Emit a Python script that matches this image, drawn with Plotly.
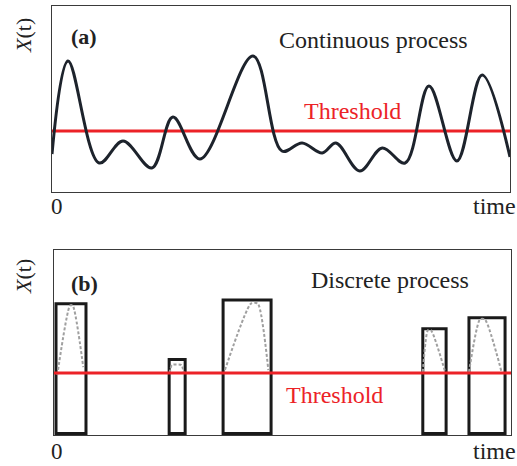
import plotly.graph_objects as go

# ---- Data (arbitrary units; time 0..100, value 0..186) ----
# Panel (a): continuous process, key points of the smooth curve
cont_t = [0, 3.5, 10.3, 15.5, 21.8, 26.4, 32.3, 43.9, 50.2, 54.6, 59.0, 62.0,
          67.2, 72.1, 77.1, 82.3, 88.4, 93.9, 100]
cont_x = [38, 131, 29, 51, 24, 75, 33, 136, 41, 49, 39, 49,
          21, 44, 29, 106, 31, 117, 35]
threshold = 61

# Panel (b): discrete process rectangles (start, end, height)
rect_start = [0.44, 25.2, 37.0, 80.7, 90.8]
rect_end = [7.0, 28.7, 47.5, 85.8, 98.7]
rect_height = [130.7, 74.7, 134.7, 105.7, 116.7]

# dashed humps inside the rectangles (start, peak-left, peak-right, end)
hump_t = [[0.72, 3.5, 4.1, 6.4], [25.3, 25.8, 27.9, 28.4], [37.4, 43.1, 44.6, 46.9],
          [80.7, 81.8, 82.5, 85.6], [90.8, 93.2, 94.3, 98.0]]
hump_x = [[59, 129, 129, 67], [61, 69, 69, 61], [64, 131, 131, 64],
          [62, 104, 104, 62], [62, 115, 115, 61]]

x_tick_labels = ["0", "time"]
y_label = "<i>X</i>(t)"
panel_labels = ["<b>(a)</b>", "<b>(b)</b>"]
panel_titles = ["Continuous process", "Discrete process"]
threshold_label = "Threshold"

W, H = 517, 466
SERIF = "Liberation Serif, Times New Roman, serif"
RED = "#ec2227"
DARK = "#1d232c"

fig = go.Figure()

# Panel (a)
fig.add_trace(go.Scatter(x=[0, 100], y=[threshold, threshold], mode="lines",
                         line=dict(color=RED, width=3), xaxis="x", yaxis="y",
                         showlegend=False, hoverinfo="skip"))
fig.add_trace(go.Scatter(x=cont_t, y=cont_x, mode="lines",
                         line=dict(color=DARK, width=3, shape="spline", smoothing=1.0),
                         xaxis="x", yaxis="y", showlegend=False))

# Panel (b)
centers = [(s + e) / 2 for s, e in zip(rect_start, rect_end)]
widths = [e - s for s, e in zip(rect_start, rect_end)]
for ht, hx in zip(hump_t, hump_x):
    fig.add_trace(go.Scatter(x=ht, y=hx, mode="lines",
                             line=dict(color="#a0a0a0", width=2, dash="3px,2px",
                                       shape="spline", smoothing=0.6),
                             xaxis="x2", yaxis="y2", showlegend=False))
fig.add_trace(go.Scatter(x=[0, 100], y=[threshold, threshold], mode="lines",
                         line=dict(color=RED, width=3), xaxis="x2", yaxis="y2",
                         showlegend=False, hoverinfo="skip"))
fig.add_trace(go.Bar(x=centers, y=rect_height, width=widths, base=0,
                     marker=dict(color="rgba(0,0,0,0)", line=dict(color="#1a1a1a", width=3)),
                     xaxis="x2", yaxis="y2", showlegend=False))

axis_common = dict(showgrid=False, zeroline=False, showticklabels=False, ticks="",
                   showline=True, mirror=True, linecolor="#3a3a3a", linewidth=1)

def px(x):
    return x / W

def py(y):
    return 1 - y / H

fig.update_layout(
    width=W, height=H, autosize=False,
    margin=dict(l=0, r=0, t=0, b=0),
    paper_bgcolor="white", plot_bgcolor="white",
    barmode="overlay",
    xaxis=dict(domain=[px(52), px(510)], range=[0, 100], anchor="y", **axis_common),
    yaxis=dict(domain=[py(192), py(6)], range=[0, 186], anchor="x", **axis_common),
    xaxis2=dict(domain=[px(54), px(511)], range=[0, 100], anchor="y2", **axis_common),
    yaxis2=dict(domain=[py(435), py(250)], range=[-1.5, 185], anchor="x2", **axis_common),
)

ann = []
def add_text(text, x, y, size, color="#222222", angle=0):
    ann.append(dict(text=text, x=px(x), y=py(y), xref="paper", yref="paper",
                    xanchor="center", yanchor="middle", showarrow=False,
                    textangle=angle, font=dict(family=SERIF, size=size, color=color)))

# Panel (a) texts
add_text(panel_labels[0], 84, 36, 22)
add_text(panel_titles[0], 373, 40, 24)
add_text(threshold_label, 352, 111, 24, RED)
add_text(y_label, 23, 36, 22, angle=-90)
add_text(x_tick_labels[0], 57, 206, 23)
add_text(x_tick_labels[1], 494, 206, 24)
# Panel (b) texts
add_text(panel_labels[1], 84, 283, 22)
add_text(panel_titles[1], 390, 280, 24)
add_text(threshold_label, 334, 395, 24, RED)
add_text(y_label, 23, 277, 22, angle=-90)
add_text(x_tick_labels[0], 57, 451, 23)
add_text(x_tick_labels[1], 494, 451, 24)

fig.update_layout(annotations=ann)
fig.write_html("out.html", config={"displayModeBar": False},
               post_script="document.body.style.margin='0';document.body.style.padding='0';document.body.style.overflow='hidden';")
